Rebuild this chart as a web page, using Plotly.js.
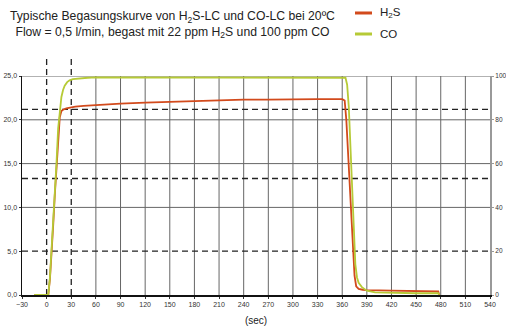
<!DOCTYPE html>
<html><head><meta charset="utf-8">
<script src="https://cdn.plot.ly/plotly-3.0.1.min.js"></script>
<style>html,body{margin:0;padding:0;background:#fff}#chart{width:506px;height:327px}</style>
</head><body><div id="chart"></div>
<script>
// ---- data ----
const timeH2S = [-15, 0, 2, 4, 6, 8, 10, 12, 14, 16, 18, 20, 24, 28, 35, 45, 60, 90, 120, 150, 180, 210, 240, 270, 300, 330, 360, 363, 365, 367, 369, 371, 373, 375, 377, 380, 385, 390, 420, 450, 477, 478];
const valH2S  = [0, 0, 0, 1.8, 4.5, 8, 11.5, 14.2, 17.5, 20.3, 21.0, 21.15, 21.3, 21.4, 21.5, 21.6, 21.7, 21.85, 21.95, 22.05, 22.1, 22.2, 22.3, 22.3, 22.35, 22.35, 22.35, 22.2, 20, 16.5, 13, 9.5, 5.8, 2.2, 1.0, 0.7, 0.6, 0.55, 0.5, 0.45, 0.4, 0];
const timeCO  = [-15, 0, 2, 4, 6, 8, 10, 12, 14, 16, 18, 20, 22, 25, 28, 32, 40, 50, 60, 90, 120, 180, 240, 300, 362, 364, 366, 368, 370, 372, 374, 376, 378, 380, 384, 390, 400, 420, 450, 477, 478];
const valCO   = [0, 0, 0, 2, 5, 8.5, 11.5, 15, 19, 21.3, 22.6, 23.4, 23.9, 24.3, 24.5, 24.65, 24.75, 24.8, 24.85, 24.85, 24.85, 24.85, 24.85, 24.85, 24.85, 24.8, 24, 21.5, 17, 12, 6.5, 3.5, 2.0, 1.4, 0.9, 0.5, 0.3, 0.25, 0.2, 0.2, 0];
const xTicks = [-30, 0, 30, 60, 90, 120, 150, 180, 210, 240, 270, 300, 330, 360, 390, 420, 450, 480, 510, 540];
const yTicks = [0, 5, 10, 15, 20, 25];
const y2Ticks = [0, 20, 40, 60, 80, 100];
const solidH = [10, 15, 20, 25];
const dashedH = [5, 13.3, 21.2];
const dashedV = [0, 30];
const seriesNames = ['H<sub>2</sub>S', 'CO'];
const colors = ['#d24a1c', '#b6ca36'];

const traces = [
  {x: timeH2S, y: valH2S, mode: 'lines', name: seriesNames[0], line: {color: colors[0], width: 1.8}, showlegend: false},
  {x: timeCO, y: valCO, mode: 'lines', name: seriesNames[1], line: {color: colors[1], width: 1.8}, showlegend: false},
  {x: [null], y: [null], yaxis: 'y2', showlegend: false, hoverinfo: 'skip'}
];
const shapes = [];
xTicks.forEach(v => {
  if (v === -30 || v === 540 || dashedV.includes(v)) return;
  shapes.push({type: 'line', xref: 'x', yref: 'paper', x0: v, x1: v, y0: 0, y1: 1, line: {color: '#666', width: 1}, layer: 'below'});
});
solidH.forEach(v => shapes.push({type: 'line', xref: 'paper', yref: 'y', x0: 0, x1: 1, y0: v, y1: v, line: {color: '#666', width: 1}, layer: 'below'}));
dashedH.forEach(v => shapes.push({type: 'line', xref: 'paper', yref: 'y', x0: 0, x1: 1, y0: v, y1: v, line: {color: '#222', width: 1.3, dash: '6px,4px'}, layer: 'below'}));
dashedV.forEach(v => shapes.push({type: 'line', xref: 'x', yref: 'paper', x0: v, x1: v, y0: 0, y1: 1.096, line: {color: '#222', width: 1.3, dash: '6px,4px'}, layer: 'below'}));
// legend keys
const legY = [1.2877, 1.1918];
colors.forEach((c, i) => shapes.push({type: 'line', xref: 'paper', yref: 'paper', x0: 0.7115, x1: 0.7479, y0: legY[i], y1: legY[i], line: {color: c, width: 3}}));

const annotations = [
  {xref: 'paper', yref: 'paper', x: -0.03, y: 1.315, xanchor: 'left', yanchor: 'top', align: 'center', showarrow: false,
   text: 'Typische Begasungskurve von H<sub>2</sub>S-LC und CO-LC bei 20ºC<br>Flow = 0,5 l/min, begast mit 22 ppm H<sub>2</sub>S und 100 ppm CO',
   font: {family: 'Liberation Sans, Arial, sans-serif', size: 12.2, color: '#222'}},
];
seriesNames.forEach((n, i) => annotations.push({xref: 'paper', yref: 'paper', x: 0.7607, y: legY[i], xanchor: 'left', yanchor: 'middle', showarrow: false, text: n, font: {family: 'Liberation Sans, Arial, sans-serif', size: 11.5, color: '#222'}}));

const tickFont = {family: 'Liberation Sans, Arial, sans-serif', size: 7, color: '#333'};
const layout = {
  width: 506, height: 327,
  margin: {l: 22, r: 16, t: 76, b: 32, pad: 0},
  paper_bgcolor: '#fff', plot_bgcolor: '#fff',
  separators: ',.',
  showlegend: false,
  xaxis: {range: [-30, 540], tickvals: xTicks, showgrid: false, zeroline: false, showline: true, linecolor: '#111', linewidth: 1.5,
          ticks: 'outside', ticklen: 2, tickcolor: '#333', tickfont: tickFont,
          title: {text: '(sec)', font: {family: 'Liberation Sans, Arial, sans-serif', size: 10, color: '#222'}, standoff: 10}, automargin: false},
  yaxis: {range: [0, 25], tickvals: yTicks, tickformat: '.1f', showgrid: false, zeroline: false, showline: true, linecolor: '#111', linewidth: 1.5,
          ticks: 'outside', ticklen: 2, tickcolor: '#333', tickfont: tickFont, automargin: false},
  yaxis2: {range: [0, 100], tickvals: y2Ticks, overlaying: 'y', side: 'right', showgrid: false, zeroline: false, showline: true,
           linecolor: '#999', linewidth: 2, ticks: 'outside', ticklen: 2, tickcolor: '#999', tickfont: {family: 'Liberation Sans, Arial, sans-serif', size: 6.5, color: '#333'}, automargin: false},
  shapes: shapes,
  annotations: annotations
};
Plotly.newPlot('chart', traces, layout, {staticPlot: true, displayModeBar: false});
</script></body></html>
